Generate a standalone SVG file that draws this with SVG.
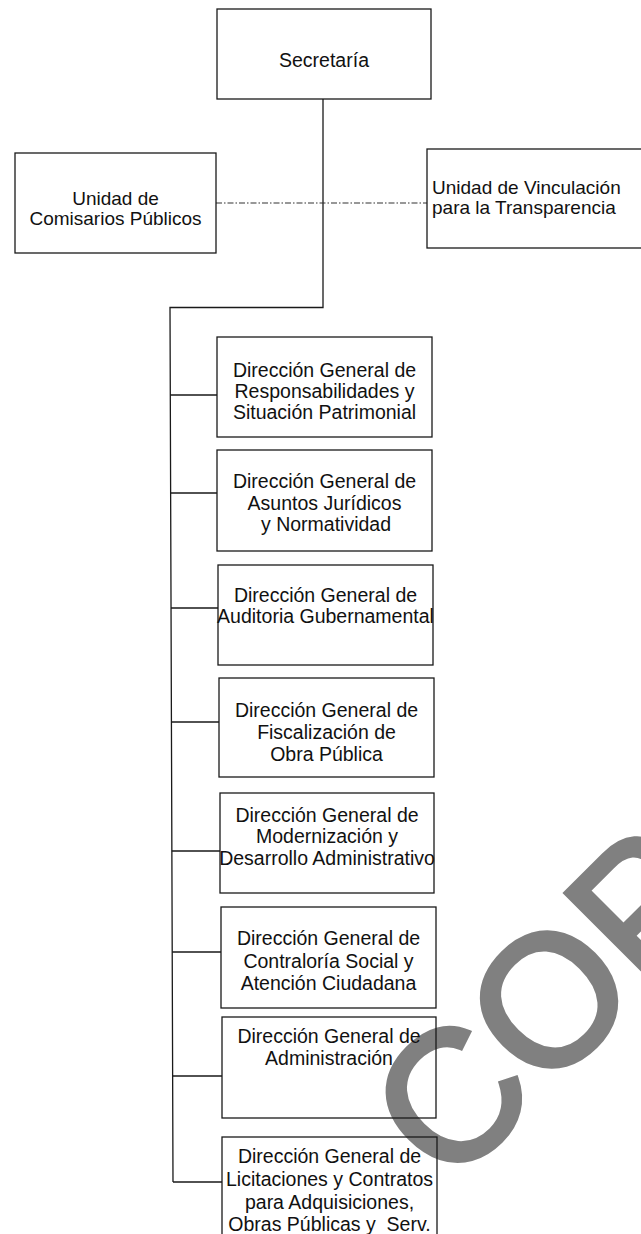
<svg xmlns="http://www.w3.org/2000/svg" width="641" height="1234" viewBox="0 0 641 1234">
<style>
.box{fill:none;stroke:#1a1a1a;stroke-width:1.3}
.t{font-family:"Liberation Sans",Arial,sans-serif;font-size:19.5px;fill:#111;text-anchor:middle}
.s{font-size:19px}
.l{text-anchor:start}
.c{fill:none;stroke:#1a1a1a;stroke-width:1.3}
.dd{fill:none;stroke:#333;stroke-width:1.1;stroke-dasharray:6 2 1.5 2}
.wm{font-family:"Liberation Sans",Arial,sans-serif;font-size:185px;fill:#808080;stroke:#808080;stroke-width:5}
</style>
<rect width="641" height="1234" fill="#fff"/>
<g id="watermark">
<text class="wm" x="449" y="1190" transform="rotate(-45 449 1190)">COP</text>
</g>
<g id="connectors">
<path class="c" d="M323,99 V307.5 H170 L173,1182"/>
<path class="c" d="M170.3,395 H217 M170.6,493 H217 M171,608 H218 M171.4,722 H219 M171.8,851 H220 M172.2,952 H221 M172.6,1076 H222 M173,1182 H222"/>
<path class="dd" d="M216,203 H427"/>
</g>
<g id="secretaria">
<rect class="box" x="217" y="9" width="214" height="90"/>
<text class="t" x="324" y="67">Secretaría</text>
</g>
<g id="comisarios">
<rect class="box" x="15" y="153" width="201" height="100"/>
<text class="t s" x="115.5" y="205">Unidad de</text>
<text class="t s" x="115.5" y="225">Comisarios Públicos</text>
</g>
<g id="vinculacion">
<rect class="box" x="427" y="149" width="230" height="99"/>
<text class="t s l" x="432" y="193.5">Unidad de Vinculación</text>
<text class="t s l" x="432" y="213.5">para la Transparencia</text>
</g>
<g id="responsabilidades">
<rect class="box" x="217" y="337" width="215" height="100"/>
<text class="t" x="324.5" y="377">Dirección General de</text>
<text class="t" x="324.5" y="398">Responsabilidades y</text>
<text class="t" x="324.5" y="419">Situación Patrimonial</text>
</g>
<g id="juridicos">
<rect class="box" x="217" y="450" width="215" height="101"/>
<text class="t" x="324.5" y="488">Dirección General de</text>
<text class="t" x="324.5" y="509.5">Asuntos Jurídicos</text>
<text class="t" x="326" y="531">y Normatividad</text>
</g>
<g id="auditoria">
<rect class="box" x="218" y="565" width="215" height="100"/>
<text class="t" x="325.5" y="602">Dirección General de</text>
<text class="t" x="325.5" y="623">Auditoria Gubernamental</text>
</g>
<g id="fiscalizacion">
<rect class="box" x="219" y="678" width="215" height="99"/>
<text class="t" x="326.5" y="717">Dirección General de</text>
<text class="t" x="326.5" y="738.5">Fiscalización de</text>
<text class="t" x="326.5" y="761">Obra Pública</text>
</g>
<g id="modernizacion">
<rect class="box" x="220" y="793" width="214" height="100"/>
<text class="t" x="327" y="822">Dirección General de</text>
<text class="t" x="327" y="843">Modernización y</text>
<text class="t" x="327" y="864.5">Desarrollo Administrativo</text>
</g>
<g id="contraloria">
<rect class="box" x="221" y="907" width="215" height="101"/>
<text class="t" x="328.5" y="945">Dirección General de</text>
<text class="t" x="328.5" y="967.5">Contraloría Social y</text>
<text class="t" x="328.5" y="990">Atención Ciudadana</text>
</g>
<g id="administracion">
<rect class="box" x="222" y="1017" width="214" height="101"/>
<text class="t" x="329" y="1043">Dirección General de</text>
<text class="t" x="329" y="1065">Administración</text>
</g>
<g id="licitaciones">
<rect class="box" x="222" y="1137" width="215" height="110"/>
<text class="t" x="329.5" y="1163">Dirección General de</text>
<text class="t" x="329.5" y="1186">Licitaciones y Contratos</text>
<text class="t" x="329.5" y="1209">para Adquisiciones,</text>
<text class="t" x="329.5" y="1231" style="white-space:pre">Obras Públicas y  Serv.</text>
</g>
</svg>
